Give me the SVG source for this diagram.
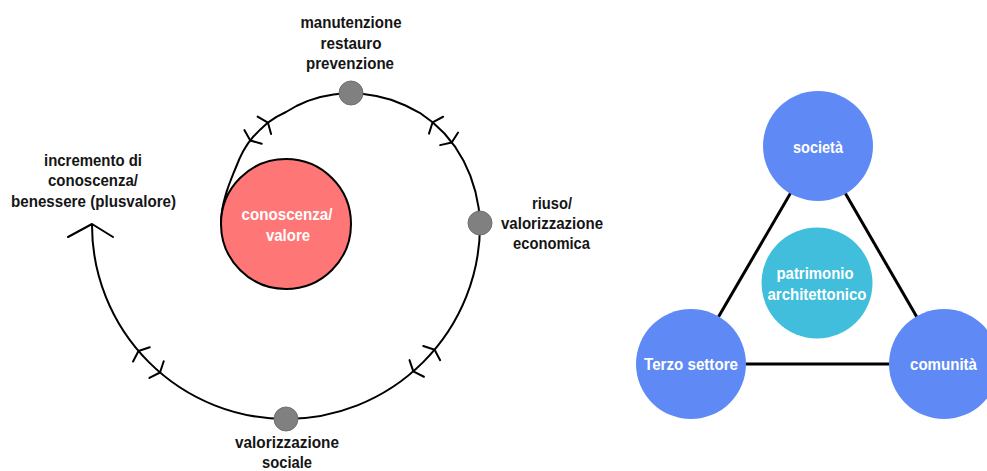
<svg xmlns="http://www.w3.org/2000/svg" xmlns:xlink="http://www.w3.org/1999/xlink" width="987" height="471" viewBox="0 0 987 471">
<style>
.lbl{font-family:"Liberation Sans",Arial,sans-serif;font-weight:bold;font-size:17px;fill:#151515;text-anchor:middle}
.wt{font-family:"Liberation Sans",Arial,sans-serif;font-weight:bold;font-size:17px;fill:#ffffff;text-anchor:middle}
.ln{fill:none;stroke:#000;stroke-width:2;stroke-linejoin:round;stroke-linecap:round}
.tri{stroke:#000;stroke-width:3}
.dot{fill:#808080;stroke:#707070;stroke-width:1}
.blue{fill:#5f8af6}
</style>
<defs>
<path id="chev" d="M-4.5,-11 L0,0 L-4.5,11" fill="none" stroke="#000" stroke-width="2" stroke-linecap="round" stroke-linejoin="round"/>
</defs>
<rect width="987" height="471" fill="#ffffff"/>
<g id="connectors">
<path class="ln" d="M221,225 L221.15,219.3 L221.7,213.7 L222.5,208 L223.7,202.3 L225.2,196.6 L226.9,190.9 L228.9,185 L231.2,179 L233.7,172.7 L236.5,166 L239.5,158.6 L243.25,151 L248,143.4 L253.7,136.2 L260.4,129.4 L267.9,122.6 L276.5,116.9 L286,112 L296.4,106 L307.9,100.9 L320.3,97 L333.5,94.4 L347.5,93.1 L361.75,93.8 L376.3,96 L391.1,99.8 L405.5,105.5 L419.7,112.8 L432.6,122.3 L444.5,133.5 L454.8,146.3 L463.4,160.4 L470.3,175.6 L475.4,191.6 L478.7,208.1 L480,225 A194,194 0 0 1 92,225"/>
<polyline class="ln" points="68,237 92,224 113,237"/>
<use xlink:href="#chev" transform="translate(250.3,140.5) rotate(128.4)"/>
<use xlink:href="#chev" transform="translate(267.9,122.6) rotate(-37.8)"/>
<use xlink:href="#chev" transform="translate(432.6,122.3) rotate(219.9)"/>
<use xlink:href="#chev" transform="translate(451.7,142.5) rotate(54.9)"/>
<use xlink:href="#chev" transform="translate(434.6,349.7) rotate(310)"/>
<use xlink:href="#chev" transform="translate(413.3,371.4) rotate(139)"/>
<use xlink:href="#chev" transform="translate(160,372.5) rotate(40.5)"/>
<use xlink:href="#chev" transform="translate(138.5,351) rotate(229.5)"/>
<line class="tri" x1="818" y1="146" x2="691" y2="364"/>
<line class="tri" x1="818" y1="146" x2="944" y2="364"/>
<line class="tri" x1="691" y1="364" x2="944" y2="364"/>
</g>
<g id="node-core">
<circle cx="286" cy="224" r="65" fill="#ff7676" stroke="#000" stroke-width="2"/>
<text class="wt" x="287" y="220" textLength="91" lengthAdjust="spacingAndGlyphs">conoscenza/</text>
<text class="wt" x="288" y="241" textLength="44" lengthAdjust="spacingAndGlyphs">valore</text>
</g>
<g id="node-manutenzione">
<circle class="dot" cx="351" cy="93" r="12"/>
<text class="lbl" x="351" y="28" textLength="101" lengthAdjust="spacingAndGlyphs">manutenzione</text>
<text class="lbl" x="351" y="49" textLength="61" lengthAdjust="spacingAndGlyphs">restauro</text>
<text class="lbl" x="350" y="69" textLength="88" lengthAdjust="spacingAndGlyphs">prevenzione</text>
</g>
<g id="node-riuso">
<circle class="dot" cx="480" cy="223" r="12"/>
<text class="lbl" x="552" y="209" textLength="40" lengthAdjust="spacingAndGlyphs">riuso/</text>
<text class="lbl" x="552" y="229" textLength="102" lengthAdjust="spacingAndGlyphs">valorizzazione</text>
<text class="lbl" x="551.5" y="249" textLength="77" lengthAdjust="spacingAndGlyphs">economica</text>
</g>
<g id="node-sociale">
<circle class="dot" cx="286" cy="419" r="12"/>
<text class="lbl" x="287" y="448" textLength="104" lengthAdjust="spacingAndGlyphs">valorizzazione</text>
<text class="lbl" x="287" y="468" textLength="50" lengthAdjust="spacingAndGlyphs">sociale</text>
</g>
<g id="label-incremento">
<text class="lbl" x="93" y="166" textLength="98" lengthAdjust="spacingAndGlyphs">incremento di</text>
<text class="lbl" x="93" y="186" textLength="90" lengthAdjust="spacingAndGlyphs">conoscenza/</text>
<text class="lbl" x="93.5" y="207" textLength="165" lengthAdjust="spacingAndGlyphs">benessere (plusvalore)</text>
</g>
<g id="node-societa">
<circle class="blue" cx="818" cy="146" r="55"/>
<text class="wt" x="818" y="153" textLength="50" lengthAdjust="spacingAndGlyphs">società</text>
</g>
<g id="node-terzo">
<circle class="blue" cx="691" cy="364" r="55"/>
<text class="wt" x="691" y="370" textLength="94" lengthAdjust="spacingAndGlyphs">Terzo settore</text>
</g>
<g id="node-comunita">
<circle class="blue" cx="944" cy="364" r="55"/>
<text class="wt" x="943.5" y="370" textLength="67" lengthAdjust="spacingAndGlyphs">comunità</text>
</g>
<g id="node-patrimonio">
<circle cx="817" cy="283" r="55.5" fill="#40bedc"/>
<text class="wt" x="815" y="279" textLength="77" lengthAdjust="spacingAndGlyphs">patrimonio</text>
<text class="wt" x="817" y="300" textLength="99" lengthAdjust="spacingAndGlyphs">architettonico</text>
</g>
</svg>
